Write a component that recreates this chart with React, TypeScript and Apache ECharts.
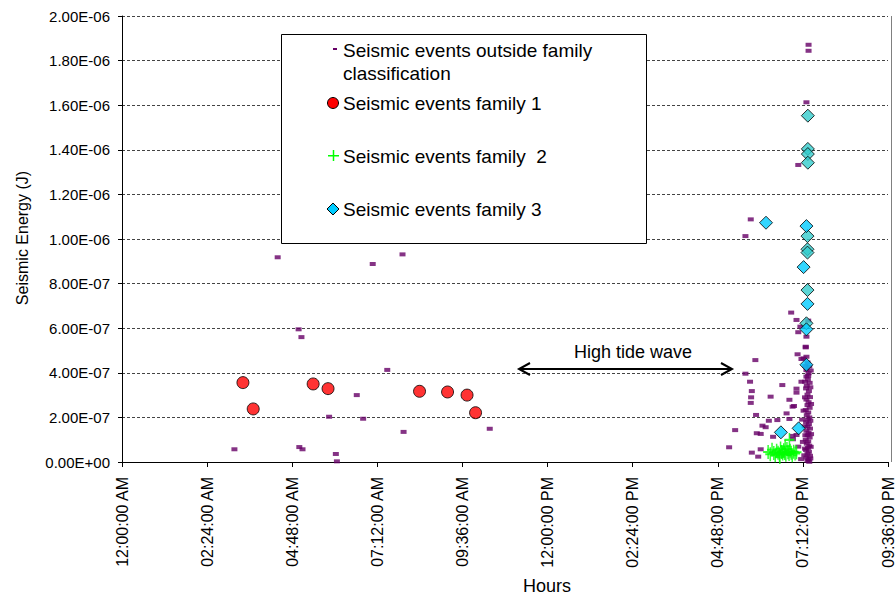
import React, { useEffect, useRef } from "react";
import * as echarts from "echarts";

// Hours (decimal) and seismic energy (J)
const outsideFamily: [number, number][] = [
  [3.17, 5.7e-8], [4.39, 9.18e-7], [4.98, 5.95e-7], [5.06, 5.6e-7], [5.0, 6.7e-8], [5.09, 5.7e-8],
  [5.84, 2.03e-7], [6.03, 3.6e-8], [6.06, 3e-9], [6.62, 3.0e-7], [6.8, 1.94e-7], [7.07, 8.88e-7],
  [7.48, 4.13e-7], [7.91, 9.31e-7], [7.94, 1.35e-7], [10.37, 1.49e-7],
  [17.73, 1.088e-6], [17.58, 1.013e-6], [18.87, 6.7e-7], [19.02, 6.37e-7], [19.07, 5.82e-7],
  [19.13, 6.07e-7], [19.28, 5.17e-7], [19.05, 4.83e-7], [19.22, 4.65e-7], [17.86, 4.57e-7],
  [17.58, 3.96e-7], [17.71, 3.6e-7], [17.76, 3.18e-7], [17.74, 2.9e-7], [17.73, 2.65e-7],
  [18.29, 2.93e-7], [18.62, 3.45e-7], [18.82, 2.79e-7], [19.02, 3.29e-7], [19.02, 3.11e-7],
  [19.16, 3.6e-7], [19.3, 3.83e-7], [19.31, 3.42e-7], [17.29, 1.43e-7], [17.12, 6.6e-8],
  [17.88, 2.11e-7], [18.06, 1.63e-7], [18.01, 1.26e-7], [18.24, 1.85e-7], [18.48, 1.88e-7],
  [18.74, 2.18e-7], [18.95, 2.51e-7], [18.82, 1.93e-7], [17.76, 4.2e-8], [17.94, 2.4e-8],
  [18.01, 5.7e-8], [18.36, 1.13e-7], [18.91, 1.17e-7], [18.15, 1.56e-7], [17.9, 1.29e-7],
  [18.92, 1.02e-7], [19.02, 1.21e-7], [19.07, 6.9e-8], [18.91, 2.48e-7],
  [19.36, 1.871e-6], [19.36, 1.844e-6], [19.3, 1.613e-6], [19.07, 1.332e-6],
  [19.16, 4.62e-7], [19.3, 4.72e-7], [19.35, 3.86e-7], [19.28, 5.14e-7], [19.3, 5.62e-7], [19.35, 6.34e-7],
  [19.33, 4.46e-7], [19.38, 4.28e-7], [19.3, 4.12e-7], [19.36, 3.98e-7], [19.34, 3.7e-7], [19.39, 3.55e-7],
  [19.29, 3.3e-7], [19.37, 3.18e-7], [19.33, 3.02e-7], [19.4, 2.91e-7], [19.3, 2.8e-7], [19.36, 2.68e-7],
  [19.33, 2.55e-7], [19.39, 2.43e-7], [19.28, 2.33e-7], [19.35, 2.22e-7], [19.31, 2.1e-7], [19.38, 2.0e-7],
  [19.34, 1.9e-7], [19.29, 1.78e-7], [19.37, 1.7e-7], [19.33, 1.59e-7], [19.4, 1.5e-7], [19.3, 1.4e-7],
  [19.36, 1.31e-7], [19.33, 1.2e-7], [19.39, 1.1e-7], [19.28, 1.0e-7], [19.35, 9.2e-8], [19.31, 8.2e-8],
  [19.38, 7.3e-8], [19.34, 6.3e-8], [19.29, 5.4e-8], [19.37, 4.6e-8], [19.33, 3.7e-8], [19.4, 2.8e-8],
  [19.3, 2.0e-8], [19.36, 1.2e-8], [19.33, 5e-9], [19.38, 1e-9], [19.22, 2.3e-7], [19.25, 1.6e-7],
  [19.2, 9e-8], [19.24, 3e-8], [19.18, 1.9e-7], [19.26, 2.9e-7], [19.15, 1.3e-8],
  [19.42, 4.1e-7], [19.41, 3.35e-7], [19.43, 2.6e-7], [19.41, 1.85e-7], [19.43, 1.25e-7], [19.42, 6.8e-8],
  [19.41, 1.6e-8], [19.27, 4.3e-7], [19.26, 3.6e-7], [19.27, 1.2e-7], [19.26, 6e-8],
];

const family1: [number, number][] = [
  [3.41, 3.56e-7], [3.7, 2.38e-7], [5.39, 3.5e-7], [5.81, 3.29e-7],
  [8.39, 3.17e-7], [9.18, 3.14e-7], [9.73, 3.0e-7], [9.97, 2.21e-7],
];

const family2: [number, number][] = [
  [18.22, 4.5e-8], [18.28, 3.5e-8], [18.33, 5.5e-8], [18.38, 4.0e-8], [18.42, 3.0e-8], [18.46, 5.0e-8],
  [18.5, 4.2e-8], [18.54, 3.3e-8], [18.57, 6.0e-8], [18.6, 4.5e-8], [18.63, 3.8e-8], [18.66, 5.3e-8],
  [18.69, 4.0e-8], [18.72, 3.2e-8], [18.75, 5.8e-8], [18.78, 4.4e-8], [18.81, 3.6e-8], [18.84, 5.0e-8],
  [18.87, 4.1e-8], [18.9, 3.0e-8], [18.94, 4.6e-8], [18.98, 3.8e-8], [19.02, 4.4e-8], [18.82, 9.9e-8],
  [18.7, 7.0e-8], [18.55, 2.2e-8],
];

const family3: [number, number][] = [
  [18.16, 1.073e-6], [19.3, 1.058e-6], [19.22, 8.74e-7], [19.33, 7.09e-7],
  [19.3, 5.95e-7], [19.3, 4.36e-7], [18.58, 1.33e-7], [19.08, 1.51e-7],
];

const family3b: [number, number][] = [
  [19.33, 1.013e-6], [19.33, 9.54e-7], [19.33, 9.39e-7], [19.33, 7.71e-7], [19.3, 6.22e-7],
  [19.34, 1.553e-6], [19.34, 1.404e-6], [19.34, 1.381e-6], [19.34, 1.342e-6],
];

const xTickLabels = [
  "12:00:00 AM", "02:24:00 AM", "04:48:00 AM", "07:12:00 AM", "09:36:00 AM",
  "12:00:00 PM", "02:24:00 PM", "04:48:00 PM", "07:12:00 PM", "09:36:00 PM",
];

const legendLabels = [
  ["Seismic events outside family", "classification"],
  ["Seismic events family 1"],
  ["Seismic events family  2"],
  ["Seismic events family 3"],
];

const FONT = "'Liberation Sans', Arial, sans-serif";
const PLUS = "path://M8.5,0H11.5V20H8.5ZM0,8.5H20V11.5H0Z";

export default function App() {
  const ref = useRef<HTMLDivElement>(null);
  useEffect(() => {
    document.body.style.margin = "0";
    const chart = echarts.init(ref.current!, null, { renderer: "svg" });
    const fmtY = (v: number) => {
      const s = v.toExponential(2).toUpperCase();
      const [m, e] = s.split("E");
      const sign = e[0];
      const digits = e.slice(1).padStart(2, "0");
      return `${m}E${sign}${digits}`;
    };
    const lx = 333;
    chart.setOption({
      animation: false,
      backgroundColor: "#ffffff",
      textStyle: { fontFamily: FONT },
      grid: { left: 122, right: 4, top: 16, bottom: 133 },
      xAxis: {
        type: "value",
        min: 0,
        max: 21.6,
        interval: 2.4,
        axisLine: { lineStyle: { color: "#000", width: 1 } },
        axisTick: { show: true, length: 5, lineStyle: { color: "#000" } },
        splitLine: { show: false },
        axisLabel: {
          rotate: 90,
          margin: 15,
          fontSize: 16,
          color: "#000",
          fontFamily: FONT,
          formatter: (v: number) => xTickLabels[Math.round(v / 2.4)] ?? "",
        },
      },
      yAxis: {
        type: "value",
        min: 0,
        max: 2e-6,
        interval: 2e-7,
        axisLine: { show: true, lineStyle: { color: "#000", width: 1 } },
        axisTick: { show: true, length: 4, lineStyle: { color: "#000" } },
        splitLine: { show: true, lineStyle: { color: "#444", type: [3, 2], width: 1 } },
        axisLabel: { fontSize: 15, color: "#000", margin: 12, fontFamily: FONT, formatter: fmtY },
      },
      series: [
        {
          name: "outside",
          type: "scatter",
          data: outsideFamily,
          symbol: "rect",
          symbolSize: [6, 4],
          itemStyle: { color: "#660066" },
          z: 2,
        },
        {
          name: "family1",
          type: "scatter",
          data: family1,
          symbol: "circle",
          symbolSize: 12,
          itemStyle: { color: "#FF0000", borderColor: "#000", borderWidth: 1 },
          z: 3,
        },
        {
          name: "family2",
          type: "scatter",
          data: family2,
          symbol: PLUS,
          symbolSize: [10, 14],
          itemStyle: { color: "#00FF00" },
          z: 4,
        },
        {
          name: "family3b",
          type: "scatter",
          data: family3b,
          symbol: "diamond",
          symbolSize: 13,
          itemStyle: { color: "#33CCCC", borderColor: "#000", borderWidth: 1 },
          z: 5,
        },
        {
          name: "family3",
          type: "scatter",
          data: family3,
          symbol: "diamond",
          symbolSize: 13,
          itemStyle: { color: "#00CCFF", borderColor: "#000", borderWidth: 1 },
          z: 6,
        },
      ],
      graphic: [
        { type: "line", shape: { x1: 891.5, y1: 16, x2: 891.5, y2: 462 }, style: { stroke: "#808080", lineWidth: 1 }, z: 10 },
        { type: "rect", shape: { x: 281.5, y: 34.5, width: 365, height: 209 }, style: { fill: "#fff", stroke: "#000", lineWidth: 1 }, z: 20 },
        { type: "rect", shape: { x: lx, y: 48, width: 4, height: 2 }, style: { fill: "#660066" }, z: 21 },
        { type: "text", x: 343, y: 50, style: { text: legendLabels[0][0], font: `19px ${FONT}`, fill: "#000", textVerticalAlign: "middle" }, z: 21 },
        { type: "text", x: 343, y: 73, style: { text: legendLabels[0][1], font: `19px ${FONT}`, fill: "#000", textVerticalAlign: "middle" }, z: 21 },
        { type: "circle", shape: { cx: lx, cy: 103, r: 5.5 }, style: { fill: "#FF0000", stroke: "#000", lineWidth: 1 }, z: 21 },
        { type: "text", x: 343, y: 103, style: { text: legendLabels[1][0], font: `19px ${FONT}`, fill: "#000", textVerticalAlign: "middle" }, z: 21 },
        { type: "rect", shape: { x: lx - 5, y: 155, width: 11, height: 1.5 }, style: { fill: "#00FF00" }, z: 21 },
        { type: "rect", shape: { x: lx - 0.25, y: 150, width: 1.5, height: 11 }, style: { fill: "#00FF00" }, z: 21 },
        { type: "text", x: 343, y: 156, style: { text: legendLabels[2][0], font: `19px ${FONT}`, fill: "#000", textVerticalAlign: "middle" }, z: 21 },
        { type: "polygon", shape: { points: [[lx, 203], [lx + 6, 209], [lx, 215], [lx - 6, 209]] }, style: { fill: "#00CCFF", stroke: "#000", lineWidth: 1 }, z: 21 },
        { type: "text", x: 343, y: 209, style: { text: legendLabels[3][0], font: `19px ${FONT}`, fill: "#000", textVerticalAlign: "middle" }, z: 21 },
        { type: "text", x: 633, y: 352, style: { text: "High tide wave", font: `18px ${FONT}`, fill: "#000", textAlign: "center", textVerticalAlign: "middle" }, z: 21 },
        { type: "line", shape: { x1: 519, y1: 369, x2: 732, y2: 369 }, style: { stroke: "#000", lineWidth: 2 }, z: 21 },
        { type: "polyline", shape: { points: [[530, 363], [519, 369], [530, 375]] }, style: { stroke: "#000", lineWidth: 2, fill: null }, z: 21 },
        { type: "polyline", shape: { points: [[721, 363], [732, 369], [721, 375]] }, style: { stroke: "#000", lineWidth: 2, fill: null }, z: 21 },
        { type: "text", x: 547, y: 586, style: { text: "Hours", font: `18px ${FONT}`, fill: "#000", textAlign: "center", textVerticalAlign: "middle" }, z: 21 },
        { type: "text", x: 22, y: 238, rotation: Math.PI / 2, style: { text: "Seismic Energy (J)", font: `16px ${FONT}`, fill: "#000", textAlign: "center", textVerticalAlign: "middle" }, z: 21 },
      ],
    });
    return () => chart.dispose();
  }, []);
  return <div ref={ref} style={{ width: 896, height: 595 }} />;
}
